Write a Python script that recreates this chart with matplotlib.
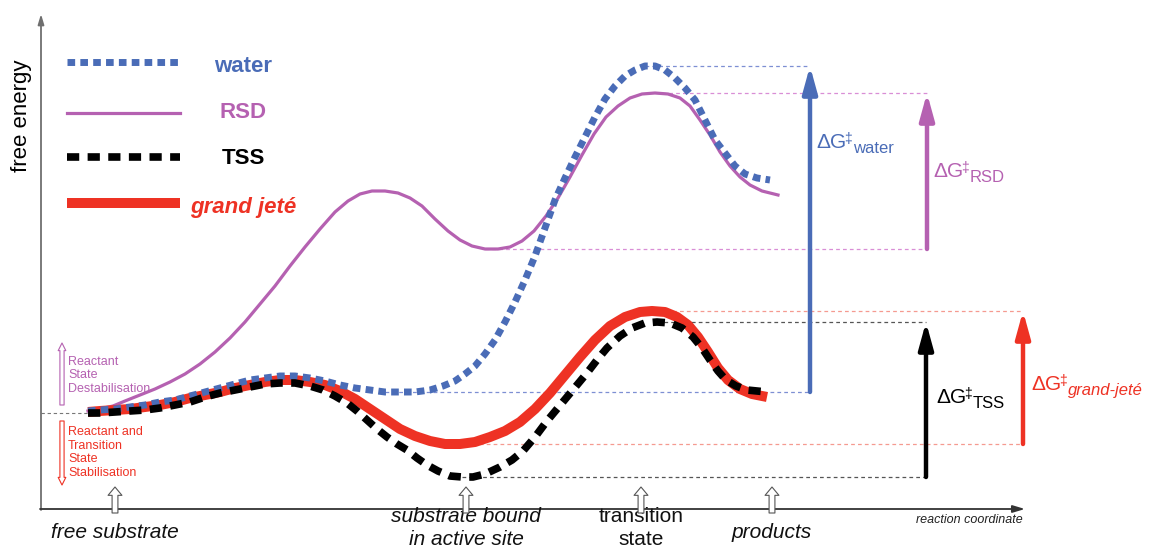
import matplotlib
matplotlib.use("Agg")
import matplotlib.pyplot as plt
import numpy as np
from matplotlib.patches import FancyArrowPatch
from matplotlib.lines import Line2D

plt.rcParams['font.family'] = ['Liberation Sans', 'DejaVu Sans']

# perfiles de energia libre (coordenada de reaccion, energia libre)
water_x = [88, 100, 115, 130, 145, 160, 175, 190, 205, 220, 235, 250, 265, 280, 295, 310, 325,
           340, 355, 370, 385, 400, 415, 430, 443, 455, 465, 475, 485, 495, 505, 515, 525, 535,
           545, 555, 565, 575, 585, 595, 605, 615, 625, 635, 645, 655, 665, 675, 685, 695, 705,
           715, 725, 735, 745, 757, 770]
water_g = [137, 138, 139, 141, 143, 146, 148, 152, 156, 160, 164, 168, 170, 172, 172, 170, 167,
           163, 160, 158, 156, 156, 156, 158, 162, 167, 174, 182, 194, 208, 226, 246, 268, 292,
           320, 348, 370, 391, 411, 431, 449, 462, 472, 478, 482, 482, 478, 470, 460, 448, 428,
           408, 395, 382, 374, 370, 368]

rsd_x = [88, 100, 113, 125, 140, 155, 170, 185, 200, 215, 230, 245, 260, 275, 290, 305, 320,
         335, 348, 360, 372, 385, 398, 410, 422, 435, 448, 460, 472, 485, 498, 510, 522, 534,
         546, 558, 570, 582, 594, 606, 618, 630, 642, 655, 668, 680, 690, 700, 710, 720, 730,
         740, 750, 762, 778]
rsd_g = [137, 139, 142, 147, 153, 159, 166, 174, 184, 196, 210, 226, 244, 262, 282, 301, 319,
         336, 347, 354, 357, 357, 355, 350, 342, 329, 317, 308, 302, 299, 299, 301, 307, 317,
         332, 350, 371, 393, 414, 431, 442, 450, 454, 455, 454, 450, 442, 428, 413, 396, 382,
         371, 363, 357, 353]

tss_x = [88, 100, 115, 130, 145, 160, 175, 190, 205, 220, 235, 250, 265, 280, 295, 310, 323,
         335, 347, 357, 367, 377, 387, 397, 407, 417, 427, 438, 450, 462, 473, 485, 500, 512,
         523, 535, 547, 557, 567, 577, 587, 597, 607, 620, 632, 645, 657, 670, 682, 693, 702,
         710, 718, 726, 736, 747, 767]
tss_g = [135, 135, 136, 137, 138, 140, 143, 146, 151, 155, 158, 161, 164, 165, 165, 162, 158,
         152, 145, 137, 128, 119, 111, 104, 98, 90, 83, 77, 72, 71, 71, 74, 81, 88,
         97, 111, 127, 139, 151, 163, 175, 188, 200, 212, 220, 225, 226, 225, 220, 211, 200,
         188, 177, 168, 162, 158, 156]

gj_x = [88, 100, 115, 130, 145, 160, 175, 190, 205, 220, 235, 250, 265, 280, 295, 310, 325,
        340, 355, 370, 385, 400, 415, 430, 445, 460, 475, 490, 505, 520, 535, 550, 565, 580,
        595, 610, 625, 640, 652, 665, 677, 688, 698, 708, 718, 728, 740, 752, 767]
gj_g = [136, 137, 138, 139, 141, 143, 146, 150, 153, 156, 160, 163, 166, 168, 168, 166, 163,
        157, 149, 139, 129, 119, 112, 107, 104, 104, 106, 111, 117, 126, 139, 155, 173, 191,
        208, 222, 231, 236, 237, 236, 231, 223, 211, 196, 180, 168, 159, 154, 151]

start_g = 135
bound_window = (330, 560)

stage_x = [115, 466, 641, 772]
stage_labels = ['free substrate', 'substrate bound\nin active site', 'transition\nstate', 'products']
stage_italic = [True, True, False, True]

blue = '#4a6cb7'
purple = '#b561b1'
black = '#000000'
red = '#ee3224'
axis_grey = '#6f6f6f'

fig = plt.figure(figsize=(11.53, 5.48), dpi=100)
ax = fig.add_axes([0, 0, 1, 1])
ax.set_xlim(0, 1153)
ax.set_ylim(0, 548)
ax.axis('off')

# ejes con flecha
ax.annotate('', xy=(41, 534), xytext=(41, 38),
            arrowprops=dict(arrowstyle='-|>,head_length=0.5,head_width=0.15', color=axis_grey,
                            lw=1.3, shrinkA=0, shrinkB=0, mutation_scale=12))
ax.annotate('', xy=(1025, 39), xytext=(40, 39),
            arrowprops=dict(arrowstyle='-|>,head_length=0.6,head_width=0.18', color='#333333',
                            lw=1.3, shrinkA=0, shrinkB=0, mutation_scale=12))
ax.text(22, 432, 'free energy', rotation=90, fontsize=16, ha='center', va='center')
ax.text(1023, 25, 'reaction coordinate', fontsize=9, style='italic', ha='right', va='baseline',
        color='#222222')

# linea base del sustrato libre
ax.plot([41, 88], [start_g, start_g], color='#777777', lw=0.8, dashes=(3, 2.5))

# curvas
ax.plot(rsd_x, rsd_g, color=purple, lw=2.3, zorder=3)
ax.plot(gj_x, gj_g, color=red, lw=7.2, solid_capstyle='butt', zorder=4)
ax.plot(water_x, water_g, color=blue, lw=5, dashes=(1.1, 0.75), dash_capstyle='butt', zorder=5)
ax.plot(tss_x, tss_g, color=black, lw=5.5, dashes=(1.6, 1.1), dash_capstyle='butt', zorder=6)

# barreras: del minimo (sustrato unido) al maximo (estado de transicion)
series = [
    (water_x, water_g, blue, '#7d8fd3', 810, 'water', False),
    (rsd_x, rsd_g, purple, '#d98ed6', 927, 'RSD', False),
    (tss_x, tss_g, black, '#555555', 926, 'TSS', False),
    (gj_x, gj_g, red, '#f59a90', 1023, 'grand-jeté', True),
]
label_pos = {'water': (816, 400), 'RSD': (933, 371), 'TSS': (936, 145), 'grand-jeté': (1031, 158)}

for xs, gs, col, light, arr_x, name, ital in series:
    xs = np.array(xs)
    gs = np.array(gs)
    i_top = np.argmax(gs)
    win = (xs > bound_window[0]) & (xs < bound_window[1])
    i_low = np.where(win)[0][np.argmin(gs[win])]
    top, low = gs[i_top], gs[i_low]
    ax.plot([xs[i_top], arr_x], [top, top], color=light, lw=0.9, dashes=(3, 2.5), zorder=1)
    ax.plot([xs[i_low], arr_x], [low, low], color=light, lw=0.9, dashes=(3, 2.5), zorder=1)
    ax.annotate('', xy=(arr_x, top), xytext=(arr_x, low),
                arrowprops=dict(arrowstyle='-|>,head_length=0.8,head_width=0.22', color=col,
                                lw=3.2, shrinkA=0, shrinkB=0, mutation_scale=20), zorder=7)

    # etiqueta ΔG‡ con subindice
    lx, ly = label_pos[name]
    t1 = ax.text(lx, ly, 'ΔG', fontsize=15, color=col, va='baseline')
    t2 = ax.annotate('‡', xy=(1, 0), xycoords=t1, xytext=(-1.2, 4.5), textcoords='offset points',
                     fontsize=10, color=col, va='bottom', ha='left')
    ax.annotate(name, xy=(1, 0), xycoords=(t2, t1), xytext=(0.3, -2.6),
                textcoords='offset points', fontsize=12, color=col, va='bottom', ha='left',
                style='italic' if ital else 'normal')

# leyenda
legend_items = [
    ('water', blue, dict(lw=5, dashes=(1.1, 0.75), dash_capstyle='butt'), 486, 476, 'normal'),
    ('RSD', purple, dict(lw=2.3), 435, 430, 'normal'),
    ('TSS', black, dict(lw=5.5, dashes=(1.6, 1.1), dash_capstyle='butt'), 391, 384, 'normal'),
    ('grand jeté', red, dict(lw=7.2, solid_capstyle='butt'), 345, 335, 'italic'),
]
for lab, col, kw, ly, ty, sty in legend_items:
    ax.add_line(Line2D([67, 180], [ly, ly], color=col, **kw))
    ax.text(243, ty, lab, fontsize=16, fontweight='bold', color=col, ha='center',
            va='baseline', style=sty)

# desestabilizacion / estabilizacion
def hollow_arrow(x0, y0, x1, y1, col, hw, tw, hl, scale):
    ax.add_patch(FancyArrowPatch(
        (x0, y0), (x1, y1),
        arrowstyle=f'simple,head_length={hl},head_width={hw},tail_width={tw}',
        mutation_scale=scale, fc='white', ec=col, lw=0.8, shrinkA=0, shrinkB=0, zorder=8))

hollow_arrow(62, 143, 62, 205, purple, 0.55, 0.3, 0.55, 10)
ax.text(68, 156, 'Reactant\nState\nDestabilisation', fontsize=9, color=purple, va='baseline',
        linespacing=1.19)
hollow_arrow(62, 127, 62, 63, red, 0.55, 0.3, 0.55, 10)
ax.text(68, 72, 'Reactant and\nTransition\nState\nStabilisation', fontsize=9, color=red,
        va='baseline', linespacing=1.19)

# etapas sobre la coordenada de reaccion (va='baseline' fija la ultima linea)
for sx, lab, ital in zip(stage_x, stage_labels, stage_italic):
    hollow_arrow(sx, 35, sx, 61, '#555555', 1.0, 0.42, 0.6, 10)
    last_baseline = 3 if '\n' in lab else 10
    ax.text(sx, last_baseline, lab, fontsize=15, ha='center', va='baseline',
            style='italic' if ital else 'normal', linespacing=1.25, color='#111111')

fig.savefig('out.png', dpi=100)
